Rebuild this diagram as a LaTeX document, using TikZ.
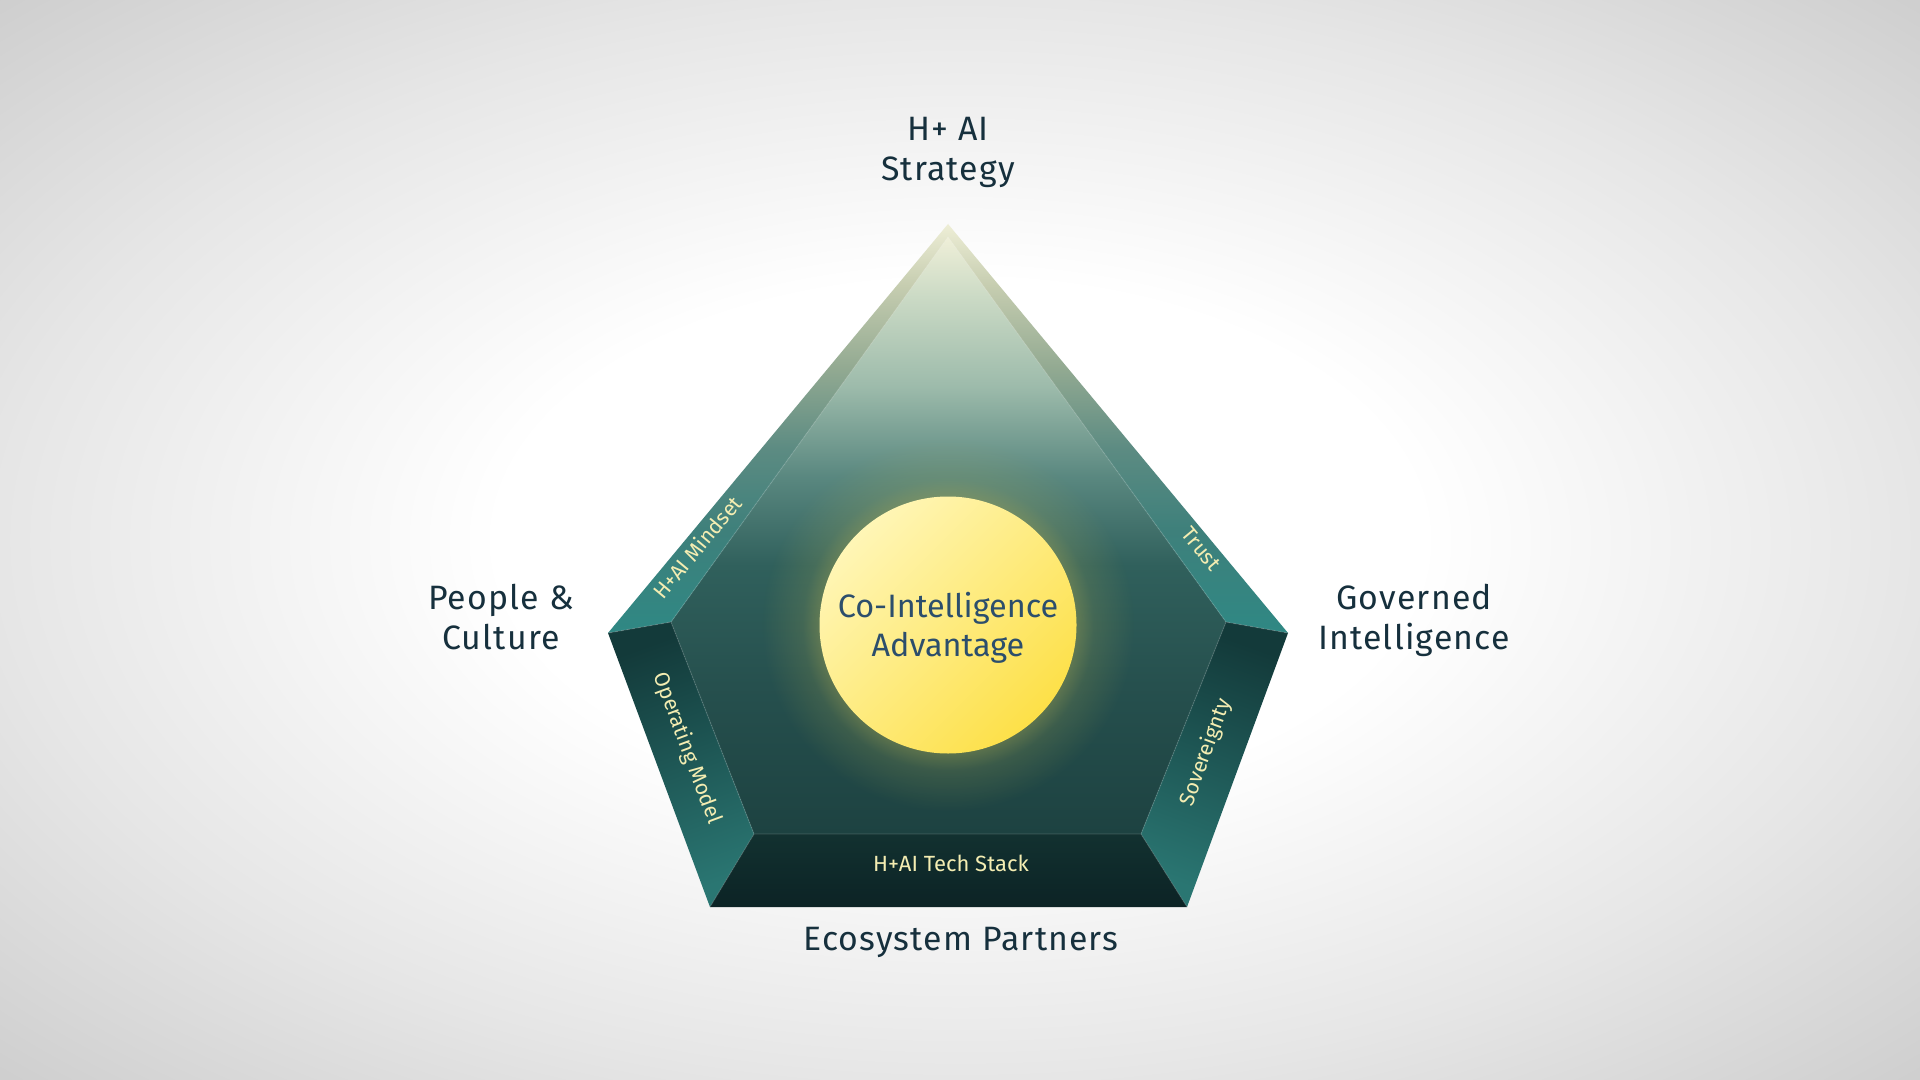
\documentclass[tikz,border=0pt]{standalone}
\usepackage{fontspec}
\setmainfont{Fira Sans}
\usetikzlibrary{fadings}
\definecolor{bgmid}{HTML}{E6E6E6}
\definecolor{bgedge}{HTML}{CDCDCD}
\definecolor{fA}{HTML}{EFEFD8}
\definecolor{fB}{HTML}{CBDAC5}
\definecolor{fC}{HTML}{9DBBAB}
\definecolor{fD}{HTML}{5A8880}
\definecolor{fE}{HTML}{30605C}
\definecolor{fF}{HTML}{26504E}
\definecolor{fG}{HTML}{1D4241}
\definecolor{sA}{HTML}{EEEED6}
\definecolor{sB}{HTML}{C6CDB0}
\definecolor{sC}{HTML}{93AA92}
\definecolor{sD}{HTML}{5C8B82}
\definecolor{sE}{HTML}{3E807B}
\definecolor{sF}{HTML}{2F8884}
\definecolor{lowtop}{HTML}{133A3A}
\definecolor{lowbot}{HTML}{2A7672}
\definecolor{bottop}{HTML}{123130}
\definecolor{botbot}{HTML}{0C2325}
\definecolor{sunA}{HTML}{FFF6B6}
\definecolor{sunB}{HTML}{FDE048}
\definecolor{glowcol}{HTML}{A9A853}
\definecolor{labelcol}{HTML}{16303D}
\definecolor{suntext}{HTML}{2C4E6C}
\definecolor{bevtext}{HTML}{F4EDB2}
\pgfdeclareradialshading{bgsh}{\pgfpointorigin}{color(0bp)=(white); color(12bp)=(white); color(25bp)=(bgmid); color(36bp)=(bgedge); color(50bp)=(bgedge)}
\pgfdeclareverticalshading{facesh}{100bp}{color(0bp)=(fG); color(25bp)=(fG); color(37.5bp)=(fF); color(47.5bp)=(fE); color(55bp)=(fD); color(62.5bp)=(fC); color(70bp)=(fB); color(75bp)=(fA); color(100bp)=(fA)}
\pgfdeclareverticalshading{stripsh}{100bp}{color(0bp)=(sF); color(25bp)=(sF); color(37.5bp)=(sE); color(47.5bp)=(sD); color(57.5bp)=(sC); color(67.5bp)=(sB); color(75bp)=(sA); color(100bp)=(sA)}
\pgfdeclareradialshading{glowsh}{\pgfpointorigin}{color(0bp)=(white); color(17.2bp)=(white); color(19.5bp)=(white!45!black); color(25bp)=(black); color(50bp)=(black)}
\pgfdeclarefading{glowfade}{\pgfuseshading{glowsh}}
\tikzset{
  outerlbl/.style={inner sep=0pt, align=center, text=labelcol, font=\fontsize{16.9}{20}\selectfont\addfontfeatures{LetterSpace=3.5}},
  sunlbl/.style={inner sep=0pt, align=center, text=suntext, font=\fontsize{16.2}{19.5}\selectfont},
  bevlbl/.style={inner sep=0pt, text=bevtext, font=\fontsize{10.6}{12}\selectfont, text height=0.69em, text depth=0pt},
  seam/.style={draw=white, draw opacity=0.10, line width=0.6pt, line join=round}
}
\begin{document}
\begin{tikzpicture}[x=0.5pt,y=-0.5pt]
\useasboundingbox (0,0) rectangle (1920,1080);
\shade[shading=bgsh] (0,0) rectangle (1920,1080);
% outer vertices
\coordinate (oT) at (948,224);
\coordinate (oL) at (608,633);
\coordinate (oR) at (1288,633);
\coordinate (oBL) at (710,907);
\coordinate (oBR) at (1187,907);
% inner vertices
\coordinate (iT) at (948,237);
\coordinate (iL) at (671,622);
\coordinate (iR) at (1226,622);
\coordinate (iBL) at (754,834);
\coordinate (iBR) at (1141,834);
% faces
\shade[shading=facesh] (iT) -- (iR) -- (iBR) -- (iBL) -- (iL) -- cycle;
\shade[shading=stripsh] (oL) -- (oT) -- (iT) -- (iL) -- cycle;
\shade[shading=stripsh] (oT) -- (oR) -- (iR) -- (iT) -- cycle;
\shade[top color=lowtop, bottom color=lowbot, shading angle=20] (oL) -- (iL) -- (iBL) -- (oBL) -- cycle;
\shade[top color=lowtop, bottom color=lowbot, shading angle=-20] (oR) -- (iR) -- (iBR) -- (oBR) -- cycle;
\shade[top color=bottop, bottom color=botbot] (iBL) -- (iBR) -- (oBR) -- (oBL) -- cycle;
\path[seam] (iT) -- (iR) -- (iBR) -- (iBL) -- (iL) -- cycle;
\path[seam] (iL) -- (oL) (iR) -- (oR) (iBL) -- (oBL) (iBR) -- (oBR);
% sun
\coordinate (sunc) at (948,625);
\fill[glowcol, fill opacity=0.42, path fading=glowfade] (sunc) circle (186);
\shade[top color=sunA, bottom color=sunB, shading angle=45] (sunc) circle (128.5);
% labels
\node[outerlbl, anchor=north] (strategy) at (948,116.5) {H+ AI\\Strategy};
\node[outerlbl, anchor=north] (people) at (501,584) {People \&\\Culture};
\node[outerlbl, anchor=north] (governed) at (1414,584) {Governed\\Intelligence};
\node[outerlbl, anchor=north] (eco) at (961,927) {Ecosystem Partners};
\node[sunlbl, anchor=north] (coint) at (948,591.5) {Co-Intelligence\\Advantage};
% bevel labels
\node[bevlbl, rotate=50.3] (mindset) at (698,548) {H+AI Mindset};
\node[bevlbl, rotate=-50.2] (trust) at (1201,549) {Trust};
\node[bevlbl, rotate=-69.6] (opmodel) at (688,748) {Operating Model};
\node[bevlbl, rotate=70] (sov) at (1205,752) {Sovereignty};
\node[bevlbl, font=\fontsize{11}{12}\selectfont] (tech) at (951,864.5) {H+AI Tech Stack};
\end{tikzpicture}
\end{document}
